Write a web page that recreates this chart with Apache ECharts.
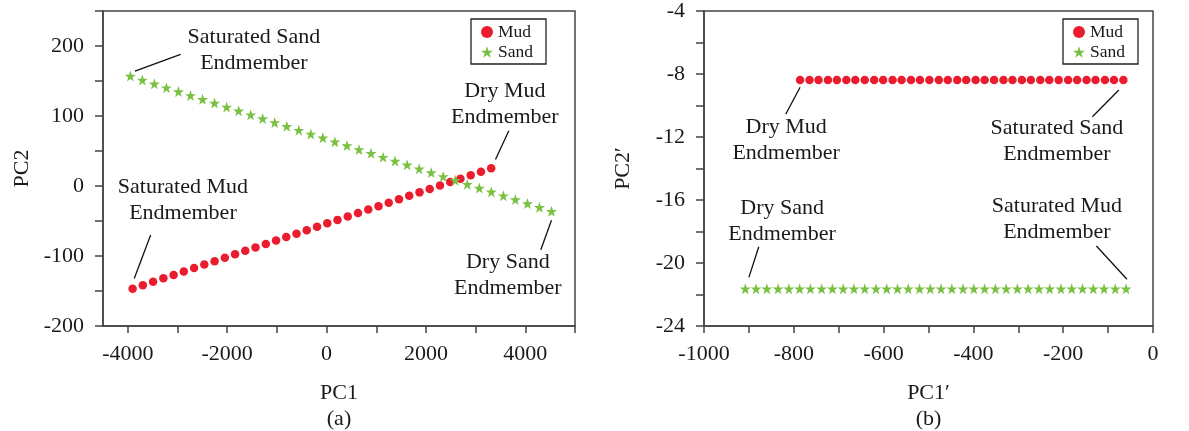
<!DOCTYPE html>
<html>
<head>
<meta charset="utf-8">
<script src="https://cdn.jsdelivr.net/npm/echarts@6/dist/echarts.min.js"></script>
<style>html,body{margin:0;padding:0;background:#fff}#c{width:1189px;height:431px}</style>
</head>
<body>
<div id="c"></div>
<script>
// ---- Panel (a) data ----
const mudPC1 = [-3904,-3698,-3492,-3285,-3079,-2873,-2667,-2461,-2254,-2048,-1842,-1636,-1430,-1223,-1017,-811,-605,-399,-192,14,220,426,632,839,1045,1251,1457,1663,1870,2076,2282,2488,2694,2901,3107,3313];
const mudPC2 = [-146.7,-141.8,-136.9,-131.9,-127.0,-122.1,-117.2,-112.3,-107.4,-102.5,-97.6,-92.6,-87.7,-82.8,-77.9,-73.0,-68.1,-63.2,-58.2,-53.3,-48.4,-43.5,-38.6,-33.7,-28.8,-23.9,-18.9,-14.0,-9.1,-4.2,0.7,5.6,10.5,15.4,20.4,25.3];
const sandPC1 = [-3950,-3708,-3466,-3223,-2981,-2739,-2497,-2255,-2012,-1770,-1528,-1286,-1044,-801,-559,-317,-75,167,410,652,894,1136,1378,1621,1863,2105,2347,2589,2832,3074,3316,3558,3800,4043,4285,4527];
const sandPC2 = [157.0,151.5,146.0,140.5,134.9,129.4,123.9,118.4,112.9,107.4,101.9,96.3,90.8,85.3,79.8,74.3,68.8,63.3,57.7,52.2,46.7,41.2,35.7,30.2,24.7,19.2,13.6,8.1,2.6,-2.9,-8.4,-13.9,-19.4,-25.0,-30.5,-36.0];

// ---- Panel (b) data ----
const mudPC1p = [-786,-765,-745,-724,-704,-683,-663,-642,-621,-601,-580,-560,-539,-519,-498,-477,-457,-436,-416,-395,-375,-354,-333,-313,-292,-272,-251,-231,-210,-189,-169,-148,-128,-107,-87,-66];
const mudPC2p = [-8.38,-8.38,-8.38,-8.38,-8.38,-8.38,-8.38,-8.38,-8.38,-8.38,-8.38,-8.38,-8.38,-8.38,-8.38,-8.38,-8.38,-8.38,-8.38,-8.38,-8.38,-8.38,-8.38,-8.38,-8.38,-8.38,-8.38,-8.38,-8.38,-8.38,-8.38,-8.38,-8.38,-8.38,-8.38,-8.38];
const sandPC1p = [-908,-884,-860,-835,-811,-787,-763,-738,-714,-690,-666,-642,-617,-593,-569,-545,-520,-496,-472,-448,-423,-399,-375,-351,-327,-302,-278,-254,-230,-205,-181,-157,-133,-109,-84,-60];
const sandPC2p = [-21.63,-21.63,-21.63,-21.63,-21.63,-21.63,-21.63,-21.63,-21.63,-21.63,-21.63,-21.63,-21.63,-21.63,-21.63,-21.63,-21.63,-21.63,-21.63,-21.63,-21.63,-21.63,-21.63,-21.63,-21.63,-21.63,-21.63,-21.63,-21.63,-21.63,-21.63,-21.63,-21.63,-21.63,-21.63,-21.63];

// ---- tick values ----
const xTicksA = [-4000,-3000,-2000,-1000,0,1000,2000,3000,4000,5000];
const xLabelsA = [-4000,-2000,0,2000,4000];
const yLabelsA = [-200,-100,0,100,200];
const xLabelsB = [-1000,-800,-600,-400,-200,0];
const yLabelsB = [-24,-20,-16,-12,-8,-4];

// ---- annotations (data coordinates) ----
const annotA = [
  {text:'Saturated Sand\nEndmember', at:[-1463,194], line:[[-3857,164],[-2938,188]]},
  {text:'Saturated Mud\nEndmember', at:[-2891,-20], line:[[-3541,-70],[-3871,-132]]},
  {text:'Dry Mud\nEndmember', at:[3588,117], line:[[3668,79],[3400,38]]},
  {text:'Dry Sand\nEndmember', at:[3648,-127], line:[[4527,-49],[4312,-91]]}
];
const annotB = [
  {text:'Dry Mud\nEndmember', at:[-817,-12.19], line:[[-786,-8.84],[-818,-10.56]]},
  {text:'Saturated Sand\nEndmember', at:[-214,-12.25], line:[[-76,-9.02],[-135,-10.71]]},
  {text:'Dry Sand\nEndmember', at:[-826,-17.33], line:[[-878,-18.97],[-900,-20.91]]},
  {text:'Saturated Mud\nEndmember', at:[-214,-17.21], line:[[-126,-18.92],[-58,-21.03]]}
];

const FONT = 'Liberation Serif';
const TXT = '#1a1a1a';
const AX = '#444';
const RED = '#ea1c2d';
const GREEN = '#7ac143';
const STAR = 'path://M50,0 L61.8,35.1 L98.1,35.1 L68.8,56.8 L79.4,91.0 L50,70 L20.6,91.0 L31.2,56.8 L1.9,35.1 L38.2,35.1 Z';

const zip = (a, b) => a.map((v, i) => [v, b[i]]);
const plain = v => String(v);

function xAxisCfg(gi, min, max, interval, name, tickVals, labelVals) {
  const ax = {
    type:'value', gridIndex:gi, min:min, max:max, interval:interval,
    name:name, nameLocation:'middle', nameGap:56,
    nameTextStyle:{fontFamily:FONT, fontSize:22, color:TXT},
    axisLine:{show:true, onZero:false, lineStyle:{color:AX, width:1.5}},
    axisTick:{show:true, length:7, lineStyle:{color:AX, width:1.5}},
    axisLabel:{fontFamily:FONT, fontSize:22, color:TXT, margin:17, customValues:labelVals, formatter:plain},
    splitLine:{show:false}
  };
  if (tickVals) ax.axisTick.customValues = tickVals;
  return ax;
}
function yAxisCfg(gi, min, max, interval, name, labelVals) {
  return {
    type:'value', gridIndex:gi, min:min, max:max, interval:interval,
    name:name, nameLocation:'middle', nameGap:70,
    nameTextStyle:{fontFamily:FONT, fontSize:22, color:TXT},
    axisLine:{show:true, onZero:false, lineStyle:{color:AX, width:1.5}},
    axisTick:{show:true, length:8, lineStyle:{color:AX, width:1.5}},
    axisLabel:{fontFamily:FONT, fontSize:22, color:TXT, margin:19, customValues:labelVals, formatter:plain},
    splitLine:{show:false}
  };
}
function annotSeries(gi, list) {
  return {
    type:'scatter', name:'annot'+gi, xAxisIndex:gi, yAxisIndex:gi,
    symbolSize:0, silent:true, z:5,
    itemStyle:{opacity:1},
    data:list.map(a => ({value:a.at, txt:a.text})),
    label:{show:true, position:'inside', formatter:p => p.data.txt, opacity:1,
      fontFamily:FONT, fontSize:22, lineHeight:26, color:TXT, align:'center', verticalAlign:'middle',
      textBorderWidth:0},
    emphasis:{disabled:true},
    markLine:{
      silent:true, symbol:['none','none'], animation:false,
      label:{show:false},
      lineStyle:{color:'#111', width:1.3, type:'solid', opacity:1},
      emphasis:{disabled:true},
      data:list.map(a => [{coord:a.line[0]}, {coord:a.line[1]}])
    }
  };
}
function pointSeries(gi, name, xs, ys, isMud) {
  return {
    type:'scatter', name:name, xAxisIndex:gi, yAxisIndex:gi,
    data:zip(xs, ys),
    symbol: isMud ? 'circle' : STAR,
    symbolSize: isMud ? 8.5 : 11,
    itemStyle:{color: isMud ? RED : GREEN, opacity:1},
    emphasis:{disabled:true},
    z: isMud ? 2 : 3
  };
}
function legendCfg(left) {
  return {
    left:left, top:19, orient:'vertical',
    data:[
      {name:'Mud', icon:'circle', itemStyle:{color:RED, opacity:1}},
      {name:'Sand', icon:STAR, itemStyle:{color:GREEN, opacity:1}}
    ],
    itemWidth:12, itemHeight:18, itemGap:2,
    padding:[4, 13, 3, 10],
    borderColor:'#222', borderWidth:1.3,
    textStyle:{fontFamily:FONT, fontSize:17.5, color:TXT},
    selectedMode:false
  };
}

const chart = echarts.init(document.getElementById('c'), null, {renderer:'canvas'});
chart.setOption({
  animation:false,
  backgroundColor:'#fff',
  grid:[
    {left:103, right:1189-575, top:11, bottom:431-326, show:true, borderColor:AX, borderWidth:1.5, backgroundColor:'transparent'},
    {left:704, right:1189-1153, top:11, bottom:431-326, show:true, borderColor:AX, borderWidth:1.5, backgroundColor:'transparent'}
  ],
  legend:[legendCfg(471), legendCfg(1063)],
  xAxis:[
    xAxisCfg(0, -4500, 5000, 500, 'PC1', xTicksA, xLabelsA),
    xAxisCfg(1, -1000, 0, 100, 'PC1\u2032', null, xLabelsB)
  ],
  yAxis:[
    yAxisCfg(0, -200, 250, 50, 'PC2', yLabelsA),
    yAxisCfg(1, -24, -4, 2, 'PC2\u2032', yLabelsB)
  ],
  graphic:[
    {type:'text', style:{text:'(a)', fontFamily:FONT, fontSize:22, fill:TXT, textAlign:'center', textVerticalAlign:'middle', x:339, y:419}},
    {type:'text', style:{text:'(b)', fontFamily:FONT, fontSize:22, fill:TXT, textAlign:'center', textVerticalAlign:'middle', x:928.5, y:419}}
  ],
  series:[
    pointSeries(0, 'Mud', mudPC1, mudPC2, true),
    pointSeries(0, 'Sand', sandPC1, sandPC2, false),
    pointSeries(1, 'Mud', mudPC1p, mudPC2p, true),
    pointSeries(1, 'Sand', sandPC1p, sandPC2p, false),
    annotSeries(0, annotA),
    annotSeries(1, annotB)
  ]
});
</script>
</body>
</html>
